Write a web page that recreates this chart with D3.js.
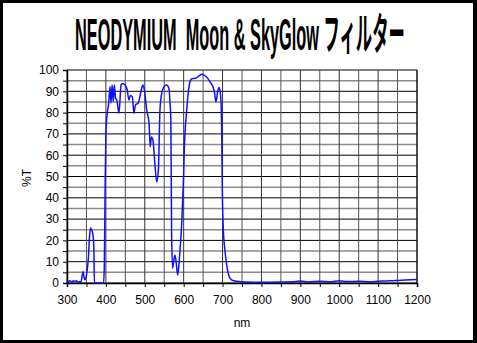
<!DOCTYPE html>
<html>
<head>
<meta charset="utf-8">
<script src="https://cdn.jsdelivr.net/npm/d3@7"></script>
<style>
  body { margin: 0; background: #fff; }
  svg { display: block; }
</style>
</head>
<body>
<div class="container"></div>
<script>
let width = 477
let height = 343

// wavelength (nm) and transmission (%T)
let nm = [300, 303, 306, 309, 312, 316, 320, 324, 328, 332, 336, 341, 344, 346, 350, 355, 358, 361, 363, 366, 369, 370.5, 375, 385, 394, 396,
  398, 400, 403.6, 407, 410.6, 413, 416, 419, 421.6, 425, 428, 433.7, 439, 443, 449, 455, 459, 463, 468, 472, 476, 483, 488, 492, 495, 499,
  505, 511, 514, 517, 521, 526, 530.6, 535, 539, 543.5, 549.5, 556, 562, 565, 567, 569, 571.6, 575, 577.7, 580, 584.6, 588, 590.6, 595, 597.5,
  600, 601.5, 603.4, 607.7, 611, 618, 623, 629, 638, 646, 653, 659, 668, 675, 679, 683, 687.4, 690.8, 693.4, 696, 697.8, 699.4,
  702, 706, 710.6, 717, 723, 736, 760, 800, 850, 880, 900, 920, 950, 980, 1000, 1020, 1050, 1080, 1100, 1130, 1145, 1170, 1200]
let pctT = [0, 0.3, 1.1, 1, 0.2, 1, 0.8, 1, 0.4, 0.6, 0.5, 5.3, 2.6, 1.5, 3.7, 12, 22, 25.8, 25, 23.5, 17, 0, 0, 0, 0, 8,
  45, 70, 80, 84, 92.2, 84.5, 93, 85.1, 93, 86.7, 86, 79.7, 93, 93.7, 93, 90.6, 85.9, 88, 87.4, 79.7, 83.6, 84.5, 88, 91.4, 93, 90.6,
  81.2, 75, 64, 68.5, 67, 56, 47.5, 53, 81, 89, 92.2, 93, 91.4, 84.4, 76.6, 23.3, 6.9, 11, 13, 10.8, 3.8, 9, 15.5, 28, 39,
  51.5, 62.5, 70.3, 81, 88, 95.3, 96, 96, 97, 98, 97.5, 96.7, 94.4, 92.2, 89.8, 85, 89.8, 91.8, 90.6, 85, 71.8, 43.7,
  24.9, 15.5, 8.5, 3, 1.5, 0.8, 0.5, 0.4, 0.5, 0.6, 0.9, 0.5, 0.8, 0.6, 1, 0.7, 0.8, 0.6, 0.8, 1, 1.2, 1.4, 1.7]

let xTicks = [300, 400, 500, 600, 700, 800, 900, 1000, 1100, 1200]
let yTicks = [0, 10, 20, 30, 40, 50, 60, 70, 80, 90, 100]

let data = nm.map(function (d, i) { return { nm: d, t: pctT[i] } })

let svg = d3.select(".container")
  .append("svg")
  .attr("width", width)
  .attr("height", height)

// black frame
svg.append("rect")
  .attr("width", width)
  .attr("height", height)
  .attr("fill", "#000")
svg.append("rect")
  .attr("x", 3)
  .attr("y", 3)
  .attr("width", 470)
  .attr("height", 337)
  .attr("fill", "#fff")

let x = d3.scaleLinear().domain([300, 1200]).range([67, 417])
let y = d3.scaleLinear().domain([0, 100]).range([283, 70])

// grid: every 5 %T and every 50 nm
let hLines = d3.range(0, 101, 5)
svg.selectAll(".hgrid")
  .data(hLines)
  .enter()
  .append("line")
  .attr("class", "hgrid")
  .attr("x1", x(300))
  .attr("x2", x(1200))
  .attr("y1", function (d) { return y(d) })
  .attr("y2", function (d) { return y(d) })
  .attr("stroke", function (d) { return d % 10 === 0 ? "#000" : "#8a8a8a" })
  .attr("stroke-width", function (d) { return d % 10 === 0 ? 1 : 1.5 })

let vLines = d3.range(300, 1201, 50)
svg.selectAll(".vgrid")
  .data(vLines)
  .enter()
  .append("line")
  .attr("class", "vgrid")
  .attr("x1", function (d) { return x(d) })
  .attr("x2", function (d) { return x(d) })
  .attr("y1", y(0))
  .attr("y2", y(100))
  .attr("stroke", function (d) { return d % 100 === 0 ? "#333" : "#555" })
  .attr("stroke-width", 1)

// axes
let xAxis = d3.axisBottom(x)
  .tickValues(vLines)
  .tickSize(4)
  .tickFormat(function (d) { return xTicks.indexOf(d) >= 0 ? d : "" })
let yAxis = d3.axisLeft(y)
  .tickValues(hLines)
  .tickSize(4)
  .tickFormat(function (d) { return yTicks.indexOf(d) >= 0 ? d : "" })

svg.append("g")
  .attr("transform", "translate(0," + y(0) + ")")
  .call(xAxis)
  .call(function (g) {
    g.select(".domain").attr("stroke", "#000").attr("stroke-width", 1.5)
    g.selectAll("line").attr("stroke", "#000")
    g.selectAll("text")
      .attr("font-family", "Liberation Sans, Arial, sans-serif")
      .attr("font-size", "12px")
      .attr("fill", "#000")
      .attr("y", 10)
      .attr("dy", "0.9em")
  })

svg.append("g")
  .attr("transform", "translate(" + x(300) + ",0)")
  .call(yAxis)
  .call(function (g) {
    g.select(".domain").attr("stroke", "#000").attr("stroke-width", 1.5)
    g.selectAll("line").attr("stroke", "#000")
    g.selectAll("text")
      .attr("font-family", "Liberation Sans, Arial, sans-serif")
      .attr("font-size", "12px")
      .attr("fill", "#000")
      .attr("x", -8)
  })

// right frame of plot
svg.append("line")
  .attr("x1", x(1200)).attr("x2", x(1200))
  .attr("y1", y(0)).attr("y2", y(100))
  .attr("stroke", "#000")

// transmission curve
let line = d3.line()
  .x(function (d) { return x(d.nm) })
  .y(function (d) { return y(d.t) })
  .curve(d3.curveMonotoneX)

svg.append("path")
  .datum(data)
  .attr("d", line)
  .attr("fill", "none")
  .attr("stroke", "#1010ff")
  .attr("stroke-width", 1.5)

// title, squeezed horizontally to fit like the original
let title = svg.append("text")
  .attr("font-family", "Liberation Sans Narrow, Liberation Sans, Noto Sans CJK JP, sans-serif")
  .attr("font-size", "44px")
  .attr("font-weight", "bold")
  .attr("fill", "#000")
  .style("white-space", "pre")
  .text("NEODYMIUM  Moon & SkyGlow フィルター")
let tw = title.node().getComputedTextLength()
title.attr("transform", "translate(75,50) scale(" + (330 / tw) + ",1)")

svg.append("text")
  .attr("x", 242)
  .attr("y", 327)
  .attr("text-anchor", "middle")
  .attr("font-family", "Liberation Sans, Arial, sans-serif")
  .attr("font-size", "12px")
  .text("nm")

svg.append("text")
  .attr("transform", "translate(31,178) rotate(-90)")
  .attr("text-anchor", "middle")
  .attr("font-family", "Liberation Sans, Arial, sans-serif")
  .attr("font-size", "12px")
  .text("%T")
</script>
</body>
</html>
